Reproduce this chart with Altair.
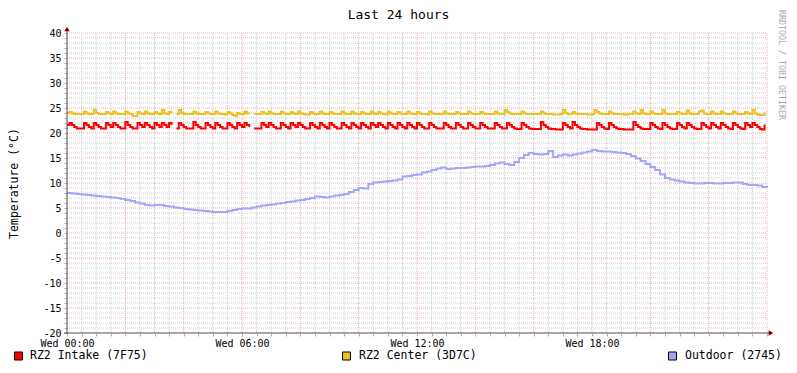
import altair as alt
import pandas as pd

# ---------------- data ----------------
TITLE = "Last 24 hours"
Y_TITLE = "Temperature (°C)"
WATERMARK = "RRDTOOL / TOBI OETIKER"
SERIES = ["RZ2 Intake (7F75)", "RZ2 Center (3D7C)", "Outdoor (2745)"]
COLORS = ["#FF0000", "#EAC11E", "#A6A6F8"]
X_LABEL_HOURS = [0, 6, 12, 18]

# RZ2 Intake, 5-minute samples from Wed 00:00 (None = missing sample)
intake = [
    21.6, 22.0, 21.6, 21.2, 20.9, 20.9, 20.9, 22.0, 21.6, 21.2, 20.9, 22.0,
    21.6, 21.2, 20.9, 20.9, 22.0, 21.6, 21.2, 22.0, 21.6, 21.2, 20.9, 20.9,
    22.2, 21.6, 21.2, 20.9, 20.9, 22.0, 21.6, 21.2, 22.0, 21.6, 21.2, 20.9,
    22.0, 21.6, 21.2, 22.0, 21.6, 21.2, 22.0, 21.6, None, 20.9, 22.0, 21.6,
    21.2, 20.9, 20.9, 20.9, 22.2, 21.6, 21.2, 20.9, 20.9, 22.0, 21.6, 21.2,
    20.9, 22.0, 21.6, 21.2, 20.9, 20.9, 22.0, 21.6, 21.2, 20.9, 22.0, 21.6,
    21.2, 22.0, 21.6, 21.2, None, 20.9, 20.9, 20.9, 22.0, 21.6, 21.2, 22.0,
    21.6, 21.2, 20.9, 20.9, 22.0, 21.6, 21.2, 20.9, 22.0, 21.6, 21.2, 22.0,
    21.6, 21.2, 20.9, 20.9, 22.0, 21.6, 21.2, 20.9, 22.0, 21.6, 21.2, 20.9,
    22.0, 21.6, 21.2, 20.9, 20.9, 22.0, 21.6, 21.2, 20.9, 22.0, 21.6, 21.2,
    20.9, 22.0, 21.6, 21.2, 20.9, 22.0, 21.6, 21.2, 22.0, 21.6, 21.2, 20.9,
    22.0, 21.6, 21.2, 20.9, 22.0, 21.6, 21.2, 20.9, 22.0, 21.6, 21.2, 20.9,
    22.0, 21.6, 21.2, 20.9, 20.9, 22.0, 21.6, 21.2, 20.9, 20.9, 20.9, 22.0,
    21.6, 21.2, 20.9, 20.9, 22.0, 21.6, 21.2, 20.9, 20.9, 22.0, 21.6, 21.2,
    20.9, 20.9, 22.0, 21.6, 21.2, 20.9, 20.9, 20.9, 22.0, 21.6, 21.2, 20.9,
    20.9, 22.0, 21.6, 21.2, 20.9, 20.8, 20.8, 22.0, 21.6, 21.2, 20.9, 20.8,
    20.8, 20.8, 20.8, 22.2, 21.6, 21.2, 20.9, 20.8, 20.8, 20.7, 20.7, 20.7,
    22.0, 21.6, 21.2, 20.9, 22.2, 21.6, 21.2, 20.9, 20.8, 20.8, 20.7, 20.7,
    20.7, 20.7, 22.0, 21.6, 21.2, 20.9, 20.8, 22.0, 21.6, 21.2, 20.9, 20.8,
    20.8, 20.7, 20.7, 20.7, 20.7, 22.2, 21.6, 21.2, 20.9, 20.8, 20.8, 20.8,
    22.0, 21.6, 21.2, 20.9, 20.8, 22.0, 21.6, 21.2, 20.9, 20.8, 20.8, 22.0,
    21.6, 21.2, 20.9, 22.0, 21.6, 21.2, 20.9, 20.8, 20.8, 22.0, 21.6, 21.2,
    20.9, 22.0, 21.6, 21.2, 20.9, 22.0, 21.6, 21.2, 20.9, 20.8, 22.0, 21.6,
    21.2, 20.9, 20.8, 22.0, 21.6, 21.2, 22.0, 21.6, 21.2, 20.8, 20.7, 21.7,
]

# RZ2 Center, 5-minute samples
center = [
    24.0, 24.2, 23.9, 23.8, 23.8, 23.8, 23.8, 24.3, 23.9, 23.8, 23.8, 24.6,
    24.0, 23.8, 23.8, 23.8, 24.2, 23.9, 23.8, 24.3, 23.9, 23.8, 23.8, 23.8,
    24.3, 23.9, 23.8, 23.4, 23.4, 24.2, 23.9, 23.8, 24.3, 23.9, 23.8, 23.8,
    24.2, 23.9, 23.8, 24.6, 23.9, 23.8, 24.2, 23.9, None, 23.8, 24.6, 24.0,
    23.8, 23.8, 23.8, 23.8, 24.3, 23.9, 23.8, 23.8, 23.8, 24.2, 23.9, 23.8,
    23.8, 24.3, 23.9, 23.8, 23.8, 23.7, 24.2, 23.9, 23.6, 23.4, 24.0, 23.8,
    23.8, 24.3, 23.9, 23.8, None, 23.8, 23.8, 23.8, 24.2, 23.9, 23.8, 24.3,
    23.9, 23.8, 23.8, 23.8, 24.3, 23.9, 23.8, 23.8, 24.2, 23.9, 23.8, 24.3,
    23.9, 23.8, 23.7, 23.7, 24.2, 23.9, 23.8, 23.8, 24.3, 23.9, 23.8, 23.8,
    24.2, 23.9, 23.8, 23.8, 23.8, 24.3, 23.9, 23.8, 23.8, 24.3, 23.9, 23.8,
    23.8, 24.2, 23.9, 23.8, 23.8, 24.3, 23.9, 23.8, 24.2, 23.9, 23.8, 23.7,
    24.3, 23.9, 23.8, 23.8, 24.2, 23.9, 23.8, 23.8, 24.3, 23.9, 23.8, 23.8,
    24.2, 23.9, 23.8, 23.8, 23.7, 24.3, 23.9, 23.8, 23.8, 23.8, 23.8, 24.3,
    23.9, 23.8, 23.8, 23.8, 24.2, 23.9, 23.8, 23.8, 23.8, 24.3, 23.9, 23.8,
    23.8, 23.8, 24.2, 23.9, 23.8, 23.8, 23.8, 23.8, 24.3, 23.9, 23.8, 23.8,
    24.6, 24.2, 23.9, 23.8, 23.8, 23.8, 23.8, 24.3, 23.9, 23.8, 23.8, 23.8,
    23.8, 23.8, 23.8, 24.3, 23.9, 23.8, 23.8, 23.8, 23.7, 23.7, 23.7, 23.8,
    24.6, 24.0, 23.8, 23.8, 24.2, 23.9, 23.8, 23.8, 23.8, 23.8, 23.7, 23.7,
    23.8, 24.6, 24.2, 23.9, 23.8, 23.8, 23.8, 24.3, 23.9, 23.8, 23.8, 23.8,
    23.8, 23.7, 23.7, 23.8, 23.8, 24.3, 23.9, 23.8, 24.6, 23.9, 23.8, 23.8,
    24.3, 23.9, 23.8, 23.8, 23.8, 24.6, 23.9, 23.8, 23.8, 23.8, 23.8, 24.2,
    23.9, 23.8, 23.8, 24.5, 23.9, 23.8, 23.8, 23.8, 24.3, 24.5, 23.9, 23.8,
    23.8, 24.3, 23.9, 23.8, 23.8, 24.3, 23.9, 23.8, 23.8, 23.8, 24.3, 23.9,
    23.8, 23.8, 23.8, 24.2, 23.9, 23.8, 24.6, 23.9, 23.7, 23.6, 23.6, 24.1,
]

# Outdoor, 10-minute samples
outdoor = [
    8.0, 7.9, 7.8, 7.7, 7.6, 7.5,
    7.4, 7.3, 7.2, 7.1, 7.0, 6.8,
    6.6, 6.4, 6.1, 5.9, 5.6, 5.5,
    5.6, 5.6, 5.4, 5.3, 5.1, 5.0,
    4.8, 4.7, 4.6, 4.5, 4.4, 4.3,
    4.2, 4.2, 4.2, 4.4, 4.6, 4.8,
    4.9, 4.9, 5.1, 5.3, 5.5, 5.6,
    5.7, 5.9, 6.0, 6.2, 6.3, 6.5,
    6.6, 6.8, 7.0, 7.3, 7.2, 7.1,
    7.3, 7.5, 7.6, 7.8, 8.2, 8.6,
    9.0, 8.9, 9.8, 10.1, 10.2, 10.3,
    10.4, 10.5, 10.7, 11.3, 11.4, 11.6,
    11.7, 12.1, 12.3, 12.6, 12.9, 13.1,
    12.8, 12.9, 13.0, 13.0, 13.1, 13.2,
    13.3, 13.3, 13.4, 13.6, 13.9, 14.1,
    13.8, 13.6, 14.2, 15.0, 15.6, 16.0,
    15.8, 15.7, 15.8, 16.4, 15.2, 15.5,
    15.7, 15.5, 15.7, 15.9, 16.1, 16.3,
    16.6, 16.4, 16.3, 16.3, 16.2, 16.1,
    16.0, 15.8, 15.4, 14.9, 14.4, 13.8,
    13.2, 12.6, 11.7, 11.0, 10.7, 10.5,
    10.3, 10.1, 10.0, 9.9, 9.9, 10.0,
    10.0, 9.9, 9.9, 10.0, 10.0, 10.1,
    10.1, 9.8, 9.6, 9.6, 9.5, 9.2,
    9.0,
]

# ---------------- tables ----------------
rows = []
for i, v in enumerate(intake):
    rows.append({"hour": i / 12, "temp": v, "series": SERIES[0], "ord": 1})
for i, v in enumerate(center):
    rows.append({"hour": i / 12, "temp": v, "series": SERIES[1], "ord": 2})
for i, v in enumerate(outdoor):
    rows.append({"hour": i / 6, "temp": v, "series": SERIES[2], "ord": 0})
df = pd.DataFrame(rows)

x_ticks = [h / 2 for h in range(0, 49)]
y_ticks = list(range(-20, 41))
grid_x_minor = pd.DataFrame({"hour": [h for h in x_ticks if h % 2 != 0]})
grid_x_major = pd.DataFrame({"hour": [h for h in x_ticks if h % 2 == 0 and h > 0]})
grid_y_minor = pd.DataFrame({"temp": [t for t in y_ticks if t % 5 != 0]})
grid_y_major = pd.DataFrame({"temp": [t for t in y_ticks if t % 5 == 0 and t > -20]})

FONT = "DejaVu Sans Mono"
W, H = 700, 300
xscale = alt.Scale(domain=[0, 24], nice=False, zero=False)
yscale = alt.Scale(domain=[-20, 40], nice=False, zero=False)

MINOR = "#CCCCCC"
MAJOR = "#EAAAAA"

x_label_expr = (
    "indexof(" + str(X_LABEL_HOURS) + ", datum.value) >= 0 ? "
    "'Wed ' + (datum.value < 10 ? '0' : '') + datum.value + ':00' : ''"
)
X_AXIS = alt.Axis(
    values=x_ticks, labelExpr=x_label_expr, domain=False, grid=False,
    tickSize=3, tickColor="#B0B0B0", labelFont=FONT, labelFontSize=10,
    labelColor="#000000", labelPadding=2, labelOverlap=False, title=None,
    labelFlush=False)
Y_AXIS = alt.Axis(
    values=y_ticks, labelExpr="datum.value % 5 == 0 ? '' + datum.value : ''",
    domain=False, grid=False, tickSize=3, tickColor="#B0B0B0",
    labelFont=FONT, labelFontSize=10, labelColor="#000000", labelPadding=3,
    labelOverlap=False, title=Y_TITLE, titleFont=FONT, titleFontSize=11.5,
    titleFontWeight="normal", titleColor="#000000", titleX=-53, titleY=150,
    titleBaseline="middle", labelFlush=False)

gxm = alt.Chart(grid_x_minor).mark_rule(color=MINOR, strokeDash=[1, 1], strokeWidth=1).encode(
    x=alt.X("hour:Q", scale=xscale, axis=X_AXIS), y=alt.value(0), y2=alt.value(H))
gym = alt.Chart(grid_y_minor).mark_rule(color=MINOR, strokeDash=[1, 1], strokeWidth=1).encode(
    y=alt.Y("temp:Q", scale=yscale, axis=Y_AXIS), x=alt.value(0), x2=alt.value(W))
gxM = alt.Chart(grid_x_major).mark_rule(color=MAJOR, strokeDash=[1, 1], strokeWidth=1).encode(
    x=alt.X("hour:Q", scale=xscale, axis=X_AXIS), y=alt.value(0), y2=alt.value(H))
gyM = alt.Chart(grid_y_major).mark_rule(color=MAJOR, strokeDash=[1, 1], strokeWidth=1).encode(
    y=alt.Y("temp:Q", scale=yscale, axis=Y_AXIS), x=alt.value(0), x2=alt.value(W))

lines = alt.Chart(df).mark_line(
    strokeWidth=2, interpolate="step-after", invalid="break-paths-show-domains"
).encode(
    x=alt.X("hour:Q", scale=xscale, axis=X_AXIS),
    y=alt.Y("temp:Q", scale=yscale, axis=Y_AXIS),
    color=alt.Color("series:N", scale=alt.Scale(domain=SERIES, range=COLORS), legend=None),
    order=alt.Order("ord:Q"),
)

one = pd.DataFrame({"k": [0]})
AXIS_COL = "#5A4A4A"
ARROW_COL = "#7F0000"
yaxis_line = alt.Chart(one).mark_rule(color=AXIS_COL, strokeWidth=1).encode(
    x=alt.value(0), y=alt.value(-4), y2=alt.value(H + 1))
xaxis_line = alt.Chart(one).mark_rule(color=AXIS_COL, strokeWidth=1).encode(
    x=alt.value(-3), x2=alt.value(W + 3), y=alt.value(H))
arrow_up = alt.Chart(one).mark_point(shape="triangle-up", filled=True, size=30,
                                     color=ARROW_COL, opacity=1).encode(
    x=alt.value(0), y=alt.value(-4))
arrow_right = alt.Chart(one).mark_point(shape="triangle-right", filled=True, size=30,
                                        color=ARROW_COL, opacity=1).encode(
    x=alt.value(W + 4), y=alt.value(H))

title = alt.Chart(pd.DataFrame({"t": [TITLE]})).mark_text(
    font=FONT, fontSize=13, color="#000000", align="center", baseline="middle").encode(
    x=alt.value(331.5), y=alt.value(-18.5), text="t:N")
mark_wm = alt.Chart(pd.DataFrame({"t": [WATERMARK]})).mark_text(
    font=FONT, fontSize=8.3, color="#A8A8A8", align="left", baseline="middle", angle=90).encode(
    x=alt.value(714), y=alt.value(-23), text="t:N")

LEG_BOX_X = [-48.5, 279.5, 605.5]
LEG_TEXT_X = [-37, 292, 618]
LEG_Y = 323
legend_layers = []
for i, (name, col) in enumerate(zip(SERIES, COLORS)):
    d = pd.DataFrame({"t": [name]})
    legend_layers.append(alt.Chart(d).mark_square(
        size=64, color=col, fill=col, opacity=1, stroke="#000000", strokeWidth=1).encode(
        x=alt.value(LEG_BOX_X[i]), y=alt.value(LEG_Y)))
    legend_layers.append(alt.Chart(d).mark_text(
        font=FONT, fontSize=11.5, color="#000000", align="left", baseline="middle").encode(
        x=alt.value(LEG_TEXT_X[i]), y=alt.value(LEG_Y), text="t:N"))

chart = alt.layer(
    gxm, gym, gxM, gyM, lines, yaxis_line, xaxis_line, arrow_up, arrow_right,
    title, mark_wm, *legend_layers
).properties(
    width=W, height=H,
    autosize=alt.AutoSizeParams(type="none"),
    padding={"left": 59, "top": 25, "right": 22, "bottom": 28},
    background="#FFFFFF",
).configure_view(strokeWidth=0)

chart.save("out.html", embed_options={"renderer": "svg", "actions": False})
